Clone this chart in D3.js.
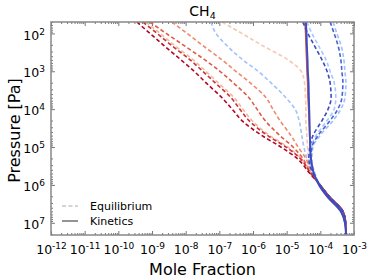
<!DOCTYPE html>
<html>
<head>
<meta charset="utf-8">
<script src="https://cdn.jsdelivr.net/npm/d3@7"></script>
<style>
body { margin: 0; background: #fff; }
svg { font-family: "DejaVu Sans", sans-serif; }
</style>
</head>
<body>
<div id="chart"></div>
<script>
// pressure levels [Pa]
var pressure = [50, 100, 200, 500, 1e3, 2e3, 5e3, 1e4, 2e4, 5e4, 1e5, 2e5, 5e5, 1e6, 2e6, 5e6, 1e7, 2e7];

// log10 mole fraction, equilibrium (dashed)
var deepEq = [-4.01, -3.74, -3.33, -3.25, -3.24];
var eqDarkRed  = [-9.45, -9.06, -8.67, -8.14, -7.75, -7.40, -6.92, -6.62, -6.33, -5.73, -5.17, -4.69, -4.31].concat(deepEq);
var eqRed2     = [-9.27, -8.85, -8.44, -7.87, -7.49, -7.13, -6.65, -6.39, -6.12, -5.56, -5.02, -4.60, -4.28].concat(deepEq);
var eqPink     = [-9.18, -8.76, -8.35, -7.78, -7.40, -7.04, -6.56, -6.30, -6.03, -5.50, -4.96, -4.57, -4.28].concat(deepEq);
var eqRed      = [-9.06, -8.58, -8.08, -7.43, -6.98, -6.59, -6.12, -5.88, -5.64, -5.20, -4.81, -4.52, -4.28].concat(deepEq);
var eqSalmon   = [-8.41, -7.96, -7.52, -6.92, -6.51, -6.09, -5.61, -5.41, -5.20, -4.87, -4.66, -4.43, -4.25].concat(deepEq);
var eqPeach    = [-6.92, -6.33, -5.76, -4.96, -4.57, -4.47, -4.44, -4.43, -4.43, -4.40, -4.38, -4.35, -4.22].concat(deepEq);
var eqSky      = [-7.25, -7.10, -6.80, -6.30, -5.85, -5.47, -5.02, -4.75, -4.63, -4.55, -4.49, -4.40, -4.25].concat(deepEq);
var eqBlueIn   = [-4.52, -4.37, -4.19, -3.95, -3.80, -3.71, -3.68, -3.77, -3.95, -4.22, -4.31, -4.34, -4.22].concat(deepEq);
var eqLightIn  = [-4.40, -4.25, -4.07, -3.83, -3.71, -3.59, -3.54, -3.59, -3.80, -4.13, -4.28, -4.31, -4.19].concat(deepEq);
var eqBlueOut  = [-3.71, -3.59, -3.48, -3.39, -3.36, -3.33, -3.36, -3.48, -3.71, -4.07, -4.25, -4.28, -4.19].concat(deepEq);
var eqLightOut = [-3.62, -3.51, -3.39, -3.30, -3.27, -3.24, -3.27, -3.39, -3.62, -4.01, -4.22, -4.25, -4.16].concat(deepEq);

// log10 mole fraction, kinetics (solid)
var kinRed  = [-4.46, -4.44, -4.43, -4.41, -4.40, -4.38, -4.37, -4.35, -4.34, -4.32, -4.30, -4.28, -4.19, -4.04, -3.80, -3.39, -3.27, -3.24];
var kinBlue = [-4.43, -4.41, -4.40, -4.38, -4.37, -4.35, -4.34, -4.33, -4.32, -4.31, -4.30, -4.28, -4.19, -4.04, -3.80, -3.39, -3.27, -3.24];

var eqSeries = [
  {v: eqPeach, c: "#f3c9b4"},
  {v: eqSky, c: "#a3c2fb"},
  {v: eqLightOut, c: "#9fbffd"},
  {v: eqLightIn, c: "#a9c6fd"},
  {v: eqSalmon, c: "#ec8a6e"},
  {v: eqRed, c: "#dc5d4a"},
  {v: eqPink, c: "#f2b8a0"},
  {v: eqRed2, c: "#c83436"},
  {v: eqDarkRed, c: "#b40426"},
  {v: eqBlueOut, c: "#4a63d3"},
  {v: eqBlueIn, c: "#3b4cc0"}
];

var xTicks = [1e-12, 1e-11, 1e-10, 1e-9, 1e-8, 1e-7, 1e-6, 1e-5, 1e-4, 1e-3];
var yTicks = [1e2, 1e3, 1e4, 1e5, 1e6, 1e7];

var margin = {top: 22, right: 20, bottom: 45, left: 51},
    width = 374 - margin.left - margin.right,
    height = 280 - margin.top - margin.bottom;

var svg = d3.select("#chart").append("svg")
    .attr("width", 374).attr("height", 280)
  .append("g")
    .attr("transform", "translate(" + margin.left + "," + margin.top + ")");

var x = d3.scaleLog().domain([1e-12, 1e-3]).range([0, width]);
var y = d3.scaleLog().domain([50, 2.1e7]).range([0, height]);

// minor ticks
var xMinor = [], yMinor = [];
for (var e = -12; e < -3; e++) for (var m = 2; m < 10; m++) xMinor.push(m * Math.pow(10, e));
for (var e2 = 1; e2 < 8; e2++) for (var m2 = 2; m2 < 10; m2++) {
  var p = m2 * Math.pow(10, e2);
  if (p >= 50 && p <= 2.1e7) yMinor.push(p);
}

function supLabel(sel) {
  sel.each(function(d) {
    var t = d3.select(this);
    var ex = Math.round(Math.log10(d));
    t.text(null);
    t.append("tspan").text("10");
    t.append("tspan").attr("dy", "-0.55em").attr("font-size", "9px").text(ex);
  });
}

var tickColor = "#555";
function styleAxis(g) {
  g.select(".domain").remove();
  g.attr("font-family", null);
  g.selectAll("line").attr("stroke", tickColor).attr("stroke-width", 0.8);
  g.selectAll("text").attr("fill", "#000").attr("font-size", "12.5px");
}

// bottom / top
svg.append("g").attr("transform", "translate(0," + height + ")")
  .call(d3.axisBottom(x).tickValues(xMinor).tickSize(-2).tickFormat("")).call(styleAxis);
var xAx = svg.append("g").attr("transform", "translate(0," + height + ")")
  .call(d3.axisBottom(x).tickValues(xTicks).tickSize(-4).tickPadding(10)).call(styleAxis);
xAx.selectAll("text").call(supLabel);
svg.append("g").call(d3.axisTop(x).tickValues(xMinor).tickSize(-2).tickFormat("")).call(styleAxis);
svg.append("g").call(d3.axisTop(x).tickValues(xTicks).tickSize(-4).tickFormat("")).call(styleAxis);

// left / right
svg.append("g").call(d3.axisLeft(y).tickValues(yMinor).tickSize(-2).tickFormat("")).call(styleAxis);
var yAx = svg.append("g")
  .call(d3.axisLeft(y).tickValues(yTicks).tickSize(-4).tickPadding(6)).call(styleAxis);
yAx.selectAll("text").attr("dy", "0.45em").call(supLabel);
svg.append("g").attr("transform", "translate(" + width + ",0)")
  .call(d3.axisRight(y).tickValues(yMinor).tickSize(-2).tickFormat("")).call(styleAxis);
svg.append("g").attr("transform", "translate(" + width + ",0)")
  .call(d3.axisRight(y).tickValues(yTicks).tickSize(-4).tickFormat("")).call(styleAxis);

// clip
svg.append("defs").append("clipPath").attr("id", "clip")
  .append("rect").attr("width", width).attr("height", height);
var plot = svg.append("g").attr("clip-path", "url(#clip)");

var line = d3.line()
  .x(function(d) { return x(Math.pow(10, d[1])); })
  .y(function(d) { return y(d[0]); })
  .curve(d3.curveMonotoneY);

function pairs(vals) { return pressure.map(function(p, i) { return [p, vals[i]]; }); }

plot.append("path").datum(pairs(kinRed))
  .attr("fill", "none").attr("stroke", "#d65a4a").attr("stroke-width", 1.4)
  .attr("d", line);

eqSeries.forEach(function(s) {
  plot.append("path").datum(pairs(s.v))
    .attr("fill", "none").attr("stroke", s.c)
    .attr("stroke-width", 1.6)
    .attr("stroke-dasharray", "4,2.5")
    .attr("d", line);
});

// blue kinetics on top
plot.append("path").datum(pairs(kinBlue))
  .attr("fill", "none").attr("stroke", "#3b4cc0").attr("stroke-width", 1.9)
  .attr("d", line);

// frame
svg.append("rect").attr("width", width).attr("height", height)
  .attr("fill", "none").attr("stroke", "#888").attr("stroke-width", 1.5);

// labels
svg.append("text").attr("x", width / 2).attr("y", -6)
  .attr("text-anchor", "middle").attr("font-size", "14px")
  .call(function(t) {
    t.append("tspan").text("CH");
    t.append("tspan").attr("dy", "0.3em").attr("font-size", "9.5px").text("4");
  });

svg.append("text")
  .attr("text-anchor", "middle")
  .attr("x", width / 2).attr("y", height + 40)
  .attr("font-size", "16px")
  .text("Mole Fraction");

svg.append("text")
  .attr("text-anchor", "middle")
  .attr("transform", "rotate(-90)")
  .attr("x", -height / 2 - 2).attr("y", -margin.left + 20)
  .attr("font-size", "16px")
  .text("Pressure [Pa]");

// legend
var legend = svg.append("g").attr("transform", "translate(11," + 184 + ")");
legend.append("line").attr("x1", 0).attr("x2", 16).attr("y1", 0).attr("y2", 0)
  .attr("stroke", "#aaa").attr("stroke-width", 1.2).attr("stroke-dasharray", "4,2.5");
legend.append("text").attr("x", 28).attr("y", 3.5).attr("font-size", "11px").text("Equilibrium");
legend.append("line").attr("x1", 0).attr("x2", 16).attr("y1", 15).attr("y2", 15)
  .attr("stroke", "#888").attr("stroke-width", 1.8);
legend.append("text").attr("x", 28).attr("y", 18.5).attr("font-size", "11px").text("Kinetics");
</script>
</body>
</html>
